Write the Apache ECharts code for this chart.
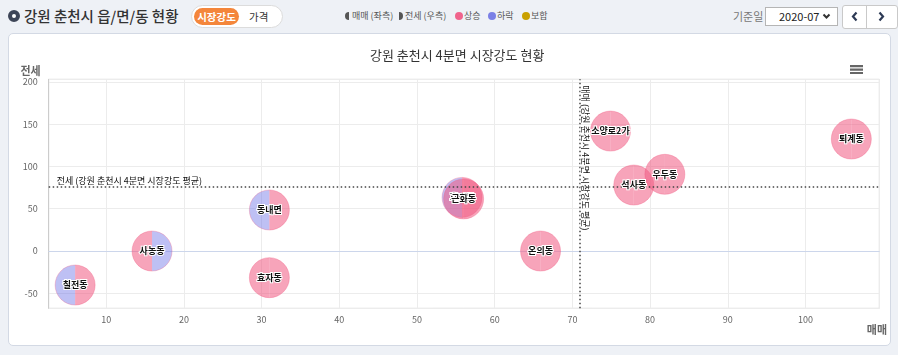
<!DOCTYPE html>
<html><head><meta charset="utf-8">
<script src="https://cdn.jsdelivr.net/npm/echarts@6/dist/echarts.min.js"></script>
<style>
html,body{margin:0;padding:0;width:898px;height:355px;overflow:hidden;background:#eef1f6;font-family:"Noto Sans CJK KR","Noto Sans",sans-serif;}
.a{position:absolute;white-space:nowrap;}
#panel{position:absolute;left:8px;top:33px;width:881px;height:311px;border:1px solid #d3d9e4;border-radius:5px;background:#fff;}
#chart{position:absolute;left:0;top:0;width:898px;height:355px;}
.lg{font-size:9px;line-height:16px;color:#555;}
</style></head>
<body>
<div id="panel"></div>
<!-- header -->
<div class="a" style="left:8px;top:10px;width:4px;height:4px;border:4px solid #3d4557;border-radius:50%;background:#fff;"></div>
<div class="a" style="left:24px;top:6px;font-size:14.5px;line-height:20px;color:#333;font-weight:500;">강원 춘천시 읍/면/동 현황</div>
<div class="a" style="left:191px;top:5px;width:90px;height:21px;border:1px solid #dcdcdc;border-radius:12px;background:#fff;"></div>
<div class="a" style="left:194px;top:8px;width:45px;height:17px;border-radius:9px;background:#f4863b;color:#fff;font-size:10.5px;font-weight:bold;line-height:17px;text-align:center;">시장강도</div>
<div class="a" style="left:249px;top:8px;font-size:10.5px;line-height:17px;color:#333;">가격</div>
<div class="a" style="left:345px;top:12px;width:4px;height:8px;border-radius:4px 0 0 4px;background:#555;"></div>
<div class="a lg" style="left:352px;top:8px;">매매 (좌측)</div>
<div class="a" style="left:399px;top:12px;width:4px;height:8px;border-radius:0 4px 4px 0;background:#555;"></div>
<div class="a lg" style="left:405px;top:8px;">전세 (우측)</div>
<div class="a" style="left:455px;top:12px;width:8px;height:8px;border-radius:50%;background:#f0648c;"></div>
<div class="a lg" style="left:464px;top:8px;">상승</div>
<div class="a" style="left:488px;top:12px;width:8px;height:8px;border-radius:50%;background:#7b80e6;"></div>
<div class="a lg" style="left:497px;top:8px;">하락</div>
<div class="a" style="left:522px;top:12px;width:8px;height:8px;border-radius:50%;background:#c9a000;"></div>
<div class="a lg" style="left:531px;top:8px;">보합</div>
<div class="a" style="left:733px;top:7px;font-size:11px;line-height:18px;color:#777;">기준일</div>
<div class="a" style="left:765px;top:7px;width:71px;height:17px;border:1px solid #b5b5b5;background:#fff;"></div>
<div class="a" style="left:779px;top:7px;font-size:11px;line-height:18px;color:#222;">2020-07</div>
<svg class="a" style="left:822px;top:13px" width="9" height="7"><polyline points="1.5,1.5 4.5,4.5 7.5,1.5" fill="none" stroke="#333" stroke-width="2"/></svg>
<div class="a" style="left:842px;top:5px;width:54px;height:22px;border:1px solid #c9c9c9;border-radius:3px;background:#fff;"></div>
<div class="a" style="left:866px;top:6px;width:1px;height:22px;background:#c9c9c9;"></div>
<svg class="a" style="left:850px;top:11px" width="10" height="11"><polyline points="6.5,1.5 3,5.5 6.5,9.5" fill="none" stroke="#2d3a55" stroke-width="2.2"/></svg>
<svg class="a" style="left:876px;top:11px" width="10" height="11"><polyline points="3.5,1.5 7,5.5 3.5,9.5" fill="none" stroke="#2d3a55" stroke-width="2.2"/></svg>
<div id="chart"></div>
<script>
// ---- data ----
const names      = ['칠전동','사농동','동내면','효자동','후평동','근화동','온의동','소양로2가','석사동','우두동','퇴계동'];
const saleIndex  = [6.0, 15.9, 31.0, 31.0, 55.8, 56.0, 65.9, 74.9, 77.9, 81.9, 105.9];   // 매매 (x)
const rentIndex  = [-40.2, 0.0, 48.5, -31.5, 63.4, 61.6, 0.0, 141.8, 78.0, 90.7, 132.4]; // 전세 (y)
const saleTrend  = ['하락','상승','하락','상승','하락','상승','상승','상승','상승','상승','상승'];
const rentTrend  = ['상승','하락','상승','상승','상승','상승','상승','상승','상승','상승','상승'];
const saleMean   = [70.9];
const rentMean   = [76.0];
const meanLabels = ['매매 (강원 춘천시 4분면 시장강도 평균)', '전세 (강원 춘천시 4분면 시장강도 평균)'];
const axisNames  = ['매매', '전세'];
const xRange     = [2.6, 109.5];
const yRange     = [-67.7, 203];

// ---- styles ----
const FONT = '"Noto Sans CJK KR","Noto Sans",sans-serif';
const R = 20;
const trendColor = {
  '상승': {fill:'rgba(240,90,130,0.55)', stroke:'rgba(240,90,130,0.35)'},
  '하락': {fill:'rgba(110,115,230,0.45)', stroke:'rgba(240,90,130,0.3)'},
  '보합': {fill:'rgba(200,160,0,0.5)',   stroke:'rgba(200,160,0,0.35)'}
};

const points = names.map((n, i) => [saleIndex[i], rentIndex[i], i]);

const chart = echarts.init(document.getElementById('chart'), null, {renderer:'canvas'});
chart.setOption({
  animation:false,
  textStyle:{fontFamily:FONT},
  title:{text:'강원 춘천시 4분면 시장강도 현황', left:365, top:44,
    textStyle:{fontSize:13, fontWeight:'normal', color:'#333', fontFamily:FONT}},
  toolbox:{right:20, top:50, itemSize:13,
    iconStyle:{color:'#666', borderWidth:0},
    emphasis:{iconStyle:{color:'#333', borderWidth:0}},
    feature:{myMenu:{show:true, title:'', icon:'path://M0,0H12V2H0ZM0,3.2H12V5.2H0ZM0,6.4H12V8.4H0Z', onclick:function(){}}}},
  graphic:[{type:'text', right:11, top:324, silent:true,
    style:{text:axisNames[0], fill:'#666', font:'bold 11px '+FONT}}],
  grid:{left:48.7, right:18.7, top:79.3, bottom:46.7, show:true, borderColor:'#d6d6d6', borderWidth:1, containLabel:false},
  xAxis:{type:'value', min:xRange[0], max:xRange[1], splitNumber:10,
    axisLine:{show:true, lineStyle:{color:'#ccd6eb', width:1}},
    axisTick:{show:false},
    axisLabel:{fontSize:9, color:'#666', margin:7, showMinLabel:false, showMaxLabel:false},
    splitLine:{show:true, lineStyle:{color:'#ececec'}}},
  yAxis:{type:'value', min:yRange[0], max:yRange[1], splitNumber:5,
    name:axisNames[1], nameLocation:'end', nameGap:3, nameMoveOverlap:false,
    nameTextStyle:{align:'right', padding:[0,8,0,0], fontSize:11, fontWeight:'bold', color:'#666'},
    axisLine:{show:true, lineStyle:{color:'#cccccc', width:1}},
    axisTick:{show:false},
    axisLabel:{fontSize:9, color:'#666', margin:11, showMinLabel:false, showMaxLabel:false},
    splitLine:{show:true, lineStyle:{color:'#ececec'}}},
  series:[
    {
      type:'custom', name:'bubbles', data:points, z:3,
      renderItem:function(params, api){
        const p = api.coord([api.value(0), api.value(1)]);
        const i = api.value(2);
        const lc = trendColor[saleTrend[i]], rc = trendColor[rentTrend[i]];
        return {type:'group', children:[
          {type:'sector', shape:{cx:p[0], cy:p[1], r:R, r0:0, startAngle:Math.PI/2, endAngle:Math.PI*1.5}, style:{fill:lc.fill}},
          {type:'sector', shape:{cx:p[0], cy:p[1], r:R, r0:0, startAngle:-Math.PI/2, endAngle:Math.PI/2}, style:{fill:rc.fill}},
          {type:'arc', shape:{cx:p[0], cy:p[1], r:R, startAngle:Math.PI/2, endAngle:Math.PI*1.5}, style:{fill:null, stroke:lc.stroke, lineWidth:1}},
          {type:'arc', shape:{cx:p[0], cy:p[1], r:R, startAngle:-Math.PI/2, endAngle:Math.PI/2}, style:{fill:null, stroke:rc.stroke, lineWidth:1}}
        ]};
      },
      markLine:{silent:true, symbol:'none', label:{show:false},
        lineStyle:{type:[1.5,2.5], color:'#444', width:1.5},
        data:[{yAxis:rentMean[0]}, {xAxis:saleMean[0]}]}
    },
    {
      type:'custom', name:'labels', data:points, z:5,
      renderItem:function(params, api){
        const p = api.coord([api.value(0), api.value(1)]);
        const i = api.value(2);
        return {type:'text', x:p[0], y:p[1], style:{text:names[i], align:'center', verticalAlign:'middle',
          fill:'#111', stroke:'#fff', lineWidth:2, font:'bold 9px '+FONT}};
      }
    },
    {
      type:'custom', name:'meanLabels', data:[[saleMean[0], rentMean[0]]], z:6,
      renderItem:function(params, api){
        const p = api.coord([api.value(0), api.value(1)]);
        const cs = params.coordSys;
        return {type:'group', children:[
          {type:'text', x:cs.x+8, y:p[1]-2, style:{text:meanLabels[1], align:'left', verticalAlign:'bottom',
            fill:'#111', font:'9px '+FONT}},
          {type:'text', x:p[0]+2, y:cs.y+6, rotation:-Math.PI/2, style:{text:meanLabels[0], align:'left', verticalAlign:'bottom',
            fill:'#111', stroke:'#fff', lineWidth:1, font:'9px '+FONT}}
        ]};
      }
    }
  ]
});
</script>
</body></html>
